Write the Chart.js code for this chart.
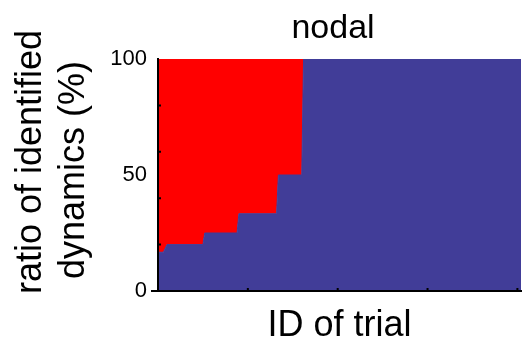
<!DOCTYPE html>
<html>
<head>
<meta charset="utf-8">
<script src="https://cdn.jsdelivr.net/npm/chart.js@4.4.1/dist/chart.umd.min.js"></script>
<style>
  html, body { margin: 0; padding: 0; background: #fff; }
</style>
</head>
<body>
<canvas id="nodalChart" width="524" height="348"></canvas>
<script>
// step corners along the trial axis
const trialIds = [0, 3, 5, 25, 26, 44, 45, 66, 67, 80, 81, 202];
// share of dynamics identified as nodal (%)
const nodalShare = [16.7, 16.7, 20, 20, 25, 25, 33.3, 33.3, 50, 50, 100, 100];
// remaining share (%), stacked on top of the nodal one
const otherShare = [83.3, 83.3, 80, 80, 75, 75, 66.7, 66.7, 50, 50, 0, 0];

const yTickLabels = [0, 50, 100];
const yMinorTicks = [20, 40, 60, 80];
const xTickMarks = [50, 100, 150, 200];
const chartTitle = 'nodal';
const yTitleLines = ['ratio of identified', 'dynamics (%)'];

const FONT = '"Liberation Sans", Arial, Helvetica, sans-serif';
const BLUE = '#413d98';
const RED = '#ff0000';

const toPoints = (xs, ys) => xs.map((x, i) => ({ x, y: ys[i] }));

// small inward tick marks, the x axis stub, the title and the two-line y title
const axisDecor = {
    id: 'axisDecor',
    afterDatasetsDraw(chart) {
        const { ctx, chartArea: a, scales: { x, y } } = chart;
        ctx.save();
        ctx.strokeStyle = '#000';
        ctx.lineWidth = 2;
        ctx.beginPath();
        yMinorTicks.forEach(v => {
            const py = y.getPixelForValue(v);
            ctx.moveTo(a.left, py);
            ctx.lineTo(a.left + 3, py);
        });
        xTickMarks.forEach(v => {
            const px = x.getPixelForValue(v);
            ctx.moveTo(px, a.bottom);
            ctx.lineTo(px, a.bottom - 3);
        });
        ctx.moveTo(a.left - 7, a.bottom);
        ctx.lineTo(a.left, a.bottom);
        ctx.stroke();
        ctx.restore();
    },
    afterDraw(chart) {
        const ctx = chart.ctx;
        ctx.save();
        ctx.fillStyle = '#000';
        ctx.textAlign = 'center';

        ctx.font = '34px ' + FONT;
        ctx.textBaseline = 'alphabetic';
        ctx.fillText(chartTitle, 333, 38);

        const pos = [[31, 162], [74, 170]];
        ctx.font = '36px ' + FONT;
        ctx.textBaseline = 'middle';
        yTitleLines.forEach((line, i) => {
            ctx.save();
            ctx.translate(pos[i][0], pos[i][1]);
            ctx.rotate(-Math.PI / 2);
            ctx.fillText(line, 0, 0);
            ctx.restore();
        });
        ctx.restore();
    }
};

new Chart(document.getElementById('nodalChart'), {
    type: 'line',
    data: {
        datasets: [{
            label: 'nodal',
            data: toPoints(trialIds, nodalShare),
            backgroundColor: BLUE,
            borderColor: BLUE,
            borderWidth: 1,
            fill: 'origin',
            pointRadius: 0,
            tension: 0
        }, {
            label: 'other',
            data: toPoints(trialIds, otherShare),
            backgroundColor: RED,
            borderWidth: 0,
            fill: '-1',
            pointRadius: 0,
            tension: 0
        }]
    },
    options: {
        responsive: false,
        devicePixelRatio: 1,
        animation: false,
        layout: { padding: { left: 0, right: 3, top: 59, bottom: 0 } },
        plugins: {
            legend: { display: false },
            tooltip: { enabled: false },
            title: { display: false }
        },
        scales: {
            x: {
                type: 'linear',
                min: 0,
                max: 202,
                grid: { display: false, drawTicks: false },
                border: { display: true, color: '#000', width: 2, z: 1 },
                ticks: { display: false },
                title: {
                    display: true,
                    text: 'ID of trial',
                    color: '#000',
                    font: { family: FONT, size: 36 },
                    padding: { top: 0, bottom: 0 }
                },
                afterFit(scale) { scale.height = 57; }
            },
            y: {
                stacked: true,
                min: 0,
                max: 100,
                grid: { display: false, drawTicks: false },
                border: { display: true, color: '#000', width: 2, z: 1 },
                afterBuildTicks(scale) {
                    scale.ticks = yTickLabels.map(v => ({ value: v }));
                },
                ticks: {
                    color: '#000',
                    padding: 11,
                    font: { family: FONT, size: 22 }
                },
                afterFit(scale) { scale.width = 158; }
            }
        }
    },
    plugins: [axisDecor]
});
</script>
</body>
</html>
